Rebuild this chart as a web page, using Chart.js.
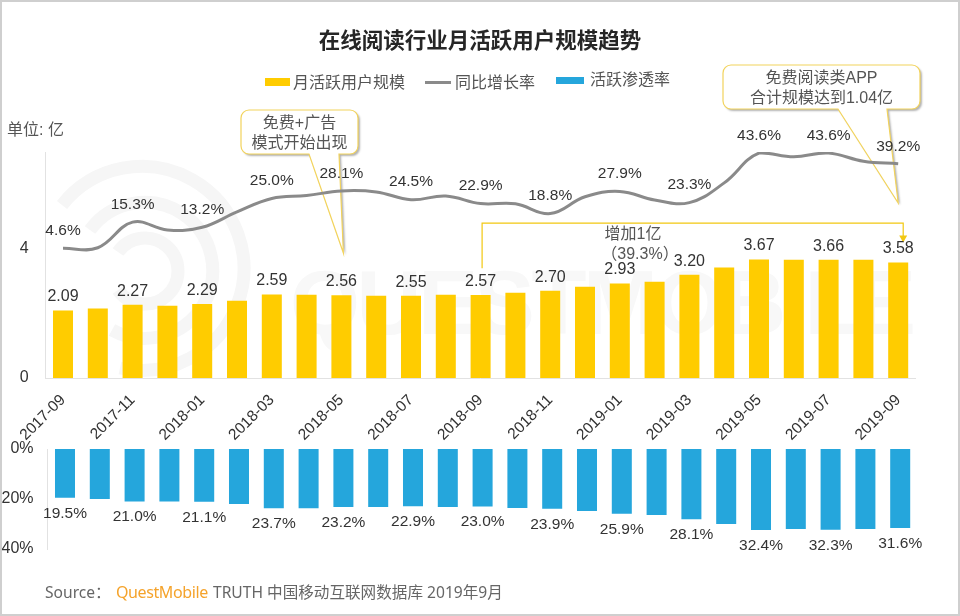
<!DOCTYPE html>
<html>
<head>
<meta charset="utf-8">
<title>在线阅读行业月活跃用户规模趋势</title>
<script src="https://cdn.jsdelivr.net/npm/chart.js@4/dist/chart.umd.min.js"></script>
<style>
  html, body { margin: 0; padding: 0; background: #fff; }
  #page { position: relative; width: 960px; height: 616px; overflow: hidden; font-family: "Liberation Sans", "Noto Sans CJK SC", sans-serif; color: #555; }
  #frame { position: absolute; left: 0; top: 0; width: 956px; height: 612px; border: 2px solid #cfcfcf; }
  #page canvas { position: absolute; left: 0; }
  .txt { position: absolute; white-space: nowrap; font-size: 16px; line-height: 20px; }
  #title { left: 0; width: 960px; top: 25px; text-align: center; font-size: 21.5px; line-height: 28px; font-weight: 700; color: #262626; font-family: "Noto Sans CJK SC", sans-serif; }
  .swatch { position: absolute; }
  #mark { position: absolute; left: 0; top: 0; }
</style>
</head>
<body>
<div id="page">
  <svg id="mark" width="960" height="616">
    <g fill="none" stroke="#f6f6f6" stroke-width="13">
      <path d="M 62 205 A 102 102 0 1 1 120 368"/>
      <path d="M 90 230 A 68 68 0 1 1 112 330"/>
      <path d="M 118 252 A 33 33 0 1 1 118 290"/>
    </g>
    <text x="290" y="334" font-family="Liberation Sans" font-weight="700" font-size="90" fill="#f8f8f8" textLength="626">QUESTMOBILE</text>
  </svg>
  <canvas id="topChart" width="960" height="445" style="top:0"></canvas>
  <canvas id="bottomChart" width="960" height="120" style="top:440px"></canvas>
  <div id="frame"></div>

  <div class="txt" id="title">在线阅读行业月活跃用户规模趋势</div>

  <div class="swatch" style="left:265px;top:78px;width:25px;height:8px;background:#ffcc00"></div>
  <div class="txt" style="left:293px;top:73px">月活跃用户规模</div>
  <div class="swatch" style="left:425px;top:81px;width:26px;height:3px;background:#8a8a8a"></div>
  <div class="txt" style="left:455px;top:73px">同比增长率</div>
  <div class="swatch" style="left:556px;top:77px;width:28px;height:7px;background:#25a6dc"></div>
  <div class="txt" style="left:590px;top:70px">活跃渗透率</div>

  <div class="txt" style="left:7px;top:120px">单位: 亿</div>

  <div class="txt" style="left:45px;top:582px;color:#666;font-family:'Noto Sans','Noto Sans CJK SC',sans-serif;font-size:15.6px">Source：</div>
  <div class="txt" style="left:116px;top:582px;color:#f5a32b;font-family:'Noto Sans',sans-serif;font-size:16px;letter-spacing:-0.4px">QuestMobile</div>
  <div class="txt" style="left:213px;top:582px;color:#666;font-family:'Noto Sans','Noto Sans CJK SC',sans-serif;font-size:15.6px">TRUTH 中国移动互联网数据库 2019年9月</div>
</div>

<script>
// data
var months = ['2017-09','2017-10','2017-11','2017-12','2018-01','2018-02','2018-03','2018-04','2018-05',
              '2018-06','2018-07','2018-08','2018-09','2018-10','2018-11','2018-12','2019-01','2019-02',
              '2019-03','2019-04','2019-05','2019-06','2019-07','2019-08','2019-09'];
var mau    = [2.09,2.15,2.27,2.24,2.29,2.39,2.59,2.58,2.56,2.55,2.55,2.58,2.57,2.64,2.70,2.83,2.93,2.98,3.20,3.42,3.67,3.66,3.66,3.66,3.58];
var growth = [4.6,4.8,15.3,12.1,13.2,19.5,25.0,26.2,28.1,27.7,24.5,26.0,22.9,22.8,18.8,25.7,27.9,24.4,23.3,31.4,43.6,42.1,43.6,40.3,39.2];
var reach  = [19.5,20.0,21.0,21.0,21.1,22.0,23.7,23.7,23.2,23.2,22.9,23.2,23.0,23.6,23.9,24.8,25.9,26.4,28.1,30.0,32.4,32.0,32.3,32.0,31.6];
var mauTicks = [0, 4];
var reachTicks = [0, 20, 40];

var numFont = '"Liberation Sans", "Noto Sans CJK SC", sans-serif';
var textColor = '#333';
var calloutColor = '#f2d35c';

// only every second month carries a value label
function everyOther(ctx, meta, values, fmt, gap, size) {
  ctx.save();
  ctx.font = size + 'px ' + numFont;
  ctx.fillStyle = textColor;
  ctx.textAlign = 'center';
  ctx.textBaseline = 'middle';
  values.forEach(function (v, i) {
    if (i % 2) return;
    var el = meta.data[i];
    ctx.fillText(fmt(v), el.x, el.y + gap);
  });
  ctx.restore();
}

function callout(ctx, b, tipX, tipY, t1, t2, lines) {
  var r = 8;
  ctx.save();
  ctx.beginPath();
  ctx.moveTo(b.l + r, b.t);
  ctx.arcTo(b.r, b.t, b.r, b.b, r);
  ctx.arcTo(b.r, b.b, b.l, b.b, r);
  ctx.lineTo(t2, b.b);
  ctx.lineTo(tipX, tipY);
  ctx.lineTo(t1, b.b);
  ctx.arcTo(b.l, b.b, b.l, b.t, r);
  ctx.arcTo(b.l, b.t, b.r, b.t, r);
  ctx.closePath();
  ctx.shadowColor = 'rgba(0,0,0,0.3)';
  ctx.shadowBlur = 2;
  ctx.shadowOffsetX = 2;
  ctx.shadowOffsetY = 2;
  ctx.fillStyle = '#fff';
  ctx.fill();
  ctx.shadowColor = 'transparent';
  ctx.strokeStyle = calloutColor;
  ctx.lineWidth = 1.2;
  ctx.stroke();
  ctx.fillStyle = '#555';
  ctx.font = '16px ' + numFont;
  ctx.textAlign = 'center';
  ctx.textBaseline = 'middle';
  lines.forEach(function (s, i) {
    ctx.fillText(s, (b.l + b.r) / 2, b.t + 13.5 + i * 20);
  });
  ctx.restore();
}

var topNotes = {
  id: 'topNotes',
  beforeDatasetsDraw: function (chart) {
    var ctx = chart.ctx, x = chart.scales.x, y = chart.scales.y;
    callout(ctx, {l: 241, t: 110, r: 358, b: 154}, x.getPixelForValue(8) + 2, y.getPixelForValue(3.87), 309, 339, ['免费+广告', '模式开始出现']);
    callout(ctx, {l: 723, t: 65, r: 920, b: 109}, x.getPixelForValue(24), y.getPixelForValue(5.42), 838, 887, ['免费阅读类APP', '合计规模达到1.04亿']);

    // bracket from 2018-09 to 2019-09
    var x0 = x.getPixelForValue(12) + 1.5, x1 = x.getPixelForValue(24) + 5;
    var yTop = y.getPixelForValue(4.8), yLow = y.getPixelForValue(3.4), yArrow = y.getPixelForValue(4.2);
    ctx.save();
    ctx.strokeStyle = '#f2c811';
    ctx.fillStyle = '#f2c811';
    ctx.lineWidth = 1.2;
    ctx.beginPath();
    ctx.moveTo(x0, yLow);
    ctx.lineTo(x0, yTop);
    ctx.lineTo(x1, yTop);
    ctx.lineTo(x1, yArrow - 6);
    ctx.stroke();
    ctx.beginPath();
    ctx.moveTo(x1 - 4, yArrow - 7);
    ctx.lineTo(x1 + 4, yArrow - 7);
    ctx.lineTo(x1, yArrow);
    ctx.closePath();
    ctx.fill();
    ctx.fillStyle = '#555';
    ctx.font = '16px ' + numFont;
    ctx.textAlign = 'center';
    ctx.textBaseline = 'middle';
    ctx.fillText('增加1亿', 633, 234.5);
    ctx.fillText('（39.3%）', 640, 254.5);
    ctx.restore();
  },
  afterDatasetsDraw: function (chart) {
    var ctx = chart.ctx;
    everyOther(ctx, chart.getDatasetMeta(1), mau, function (v) { return v.toFixed(2); }, -13.5, 16);
    everyOther(ctx, chart.getDatasetMeta(0), growth, function (v) { return v.toFixed(1) + '%'; }, -17.5, 15.5);
  }
};

var bottomNotes = {
  id: 'bottomNotes',
  afterDatasetsDraw: function (chart) {
    everyOther(chart.ctx, chart.getDatasetMeta(0), reach, function (v) { return v.toFixed(1) + '%'; }, 15.5, 15.5);
  }
};

new Chart(document.getElementById('topChart').getContext('2d'), {
  type: 'bar',
  data: {
    labels: months,
    datasets: [{
      type: 'line',
      label: '同比增长率',
      data: growth,
      yAxisID: 'y2',
      borderColor: '#8a8a8a',
      borderWidth: 3,
      pointRadius: 0,
      tension: 0.4,
      order: 0
    }, {
      label: '月活跃用户规模',
      data: mau,
      yAxisID: 'y',
      backgroundColor: '#ffcc00',
      categoryPercentage: 1,
      barPercentage: 0.575,
      order: 1
    }]
  },
  options: {
    responsive: false,
    animation: false,
    devicePixelRatio: 1,
    layout: { padding: { top: 152, right: 44.4, left: 0, bottom: 0 } },
    plugins: { legend: { display: false }, tooltip: { enabled: false } },
    scales: {
      x: {
        grid: { display: false, drawTicks: false },
        border: { display: true, color: '#e2e2e2' },
        afterFit: function (s) { s.height = 67; },
        ticks: {
          autoSkip: false,
          minRotation: 45,
          maxRotation: 45,
          padding: 13,
          color: textColor,
          font: { family: numFont, size: 15.5 },
          callback: function (v, i) { return i % 2 ? '' : months[i]; }
        }
      },
      y: {
        min: 0,
        max: 7,
        grid: { display: false, drawTicks: false },
        border: { display: true, color: '#e2e2e2' },
        afterFit: function (s) { s.width = 45.6; },
        afterBuildTicks: function (s) { s.ticks = mauTicks.map(function (v) { return { value: v }; }); },
        ticks: { padding: 17, color: textColor, font: { family: numFont, size: 16 } }
      },
      y2: {
        display: false,
        min: -48.6,
        max: 44.06
      }
    }
  },
  plugins: [topNotes]
});

new Chart(document.getElementById('bottomChart').getContext('2d'), {
  type: 'bar',
  data: {
    labels: months,
    datasets: [{
      label: '活跃渗透率',
      data: reach,
      backgroundColor: '#25a6dc',
      categoryPercentage: 1,
      barPercentage: 0.575
    }]
  },
  options: {
    responsive: false,
    animation: false,
    devicePixelRatio: 1,
    layout: { padding: { top: 9, right: 42.4, left: 0, bottom: 11 } },
    plugins: { legend: { display: false }, tooltip: { enabled: false } },
    scales: {
      x: { display: false },
      y: {
        reverse: true,
        min: 0,
        max: 40,
        grid: { display: false, drawTicks: false },
        border: { display: true, color: '#e2e2e2' },
        afterFit: function (s) { s.width = 47.6; s.paddingTop = 0; s.paddingBottom = 0; },
        afterBuildTicks: function (s) { s.ticks = reachTicks.map(function (v) { return { value: v }; }); },
        ticks: {
          padding: 14,
          color: textColor,
          font: { family: numFont, size: 16 },
          callback: function (v) { return v + '%'; }
        }
      }
    }
  },
  plugins: [bottomNotes]
});
</script>
</body>
</html>
